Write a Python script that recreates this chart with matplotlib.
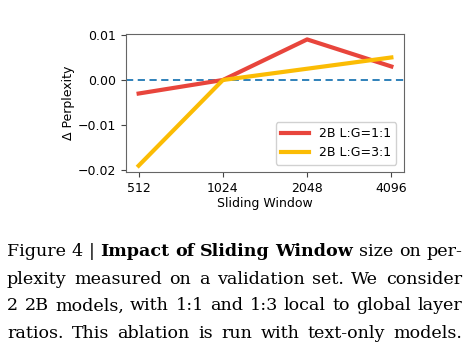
import numpy as np
import matplotlib.pyplot as plt

windows = ["512", "1024", "2048", "4096"]
ppl_1to1 = [-0.003, 0.0, 0.009, 0.003]
ppl_3to1 = [-0.019, 0.0, 0.0025, 0.005]
yticks = [-0.02, -0.01, 0.0, 0.01]

# caption words, bold flag per word
caption = [
    [("Figure", 0), ("4", 0), ("|", 0), ("Impact", 1), ("of", 1), ("Sliding", 1),
     ("Window", 1), ("size", 0), ("on", 0), ("per-", 0)],
    [(w, 0) for w in "plexity measured on a validation set. We consider".split()],
    [(w, 0) for w in "2 2B models, with 1:1 and 1:3 local to global layer".split()],
    [(w, 0) for w in "ratios. This ablation is run with text-only models.".split()],
]


def main():
    fig = plt.figure(figsize=(4.7, 3.49), dpi=100)
    ax = fig.add_axes([126 / 470, 1 - 172 / 349, 278 / 470, 138 / 349])
    x = np.arange(len(windows))

    ax.axhline(0, color="#1f77b4", ls="--", lw=1.3, dashes=(4, 2.5))
    ax.plot(x, ppl_1to1, color="#E8453C", lw=3, label="2B L:G=1:1")
    ax.plot(x, ppl_3to1, color="#FBBC04", lw=3, label="2B L:G=3:1")

    ax.set_xlim(-0.15, 3.15)
    ax.set_ylim(-0.0204, 0.0102)
    ax.set_xticks(x)
    ax.set_xticklabels(windows)
    ax.set_yticks(yticks)
    ax.set_yticklabels(["\u22120.02", "\u22120.01", "0.00", "0.01"])
    ax.tick_params(labelsize=9, length=3.5, color="#444")
    for s in ax.spines.values():
        s.set_color("#666")
    ax.set_xlabel("Sliding Window", fontsize=9, labelpad=2)
    ax.set_ylabel("\u0394 Perplexity", fontsize=9, labelpad=2)
    ax.legend(loc="lower right", fontsize=9, handlelength=2.3,
              borderaxespad=0.6, framealpha=0.9)

    # justified caption under the chart
    left, right = 7, 462
    ys = [252, 279, 306, 333]
    r = fig.canvas.get_renderer()
    for words, y in zip(caption, ys):
        texts = []
        for w, b in words:
            t = fig.text(0, 1 - y / 349, w, fontsize=12.6, family="DejaVu Serif",
                         weight="bold" if b else "normal", va="center")
            texts.append(t)
        widths = [t.get_window_extent(renderer=r).width for t in texts]
        gap = (right - left - sum(widths)) / (len(texts) - 1)
        xpos = left
        for t, wd in zip(texts, widths):
            t.set_x(xpos / 470)
            xpos += wd + gap

    fig.savefig("out.png", dpi=100)


if __name__ == '__main__':
    main()
